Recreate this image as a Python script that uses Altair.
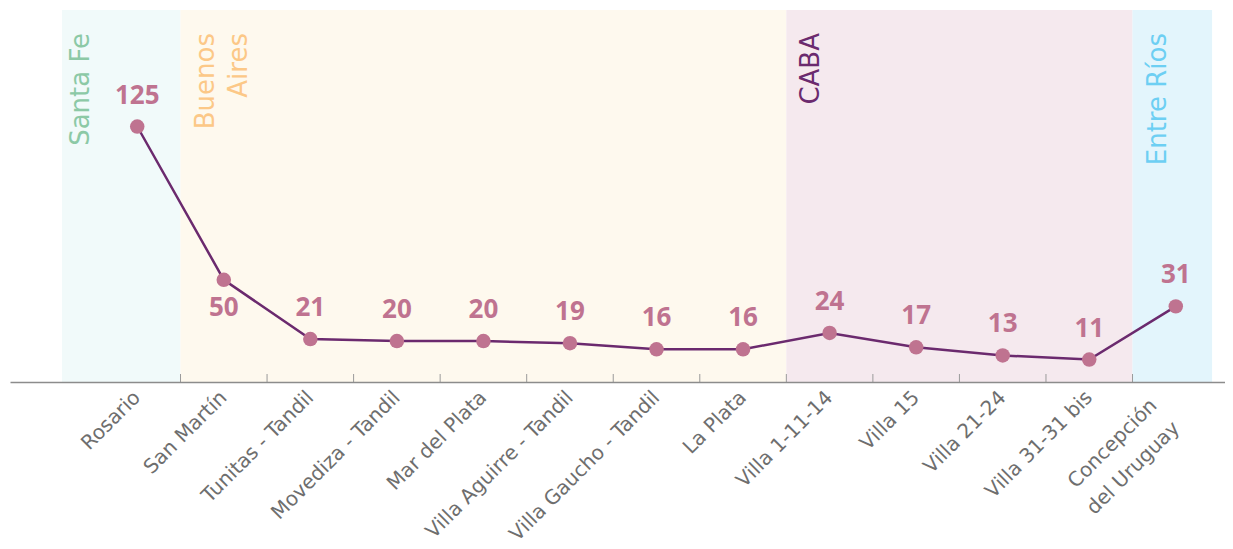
import altair as alt
import pandas as pd

categories = ["Rosario", "San Martín", "Tunitas - Tandil", "Movediza - Tandil", "Mar del Plata",
              "Villa Aguirre - Tandil", "Villa Gaucho - Tandil", "La Plata", "Villa 1-11-14",
              "Villa 15", "Villa 21-24", "Villa 31-31 bis", "Concepción del Uruguay"]
# point heights as drawn in the picture
values = [125, 50, 21, 20, 20, 19, 16, 16, 24, 17, 13, 11, 37]
# numbers printed next to the points
value_labels = ["125", "50", "21", "20", "20", "19", "16", "16", "24", "17", "13", "11", "31"]
label_side = ["above", "below", "above", "above", "above", "above", "above", "above",
              "above", "above", "above", "above", "above"]

regions = ["Santa Fe", "Buenos|Aires", "CABA", "Entre Ríos"]
region_first = ["Rosario", "San Martín", "Villa 1-11-14", "Concepción del Uruguay"]
region_last = ["Rosario", "La Plata", "Villa 31-31 bis", "Concepción del Uruguay"]
region_fill = ["#f1fafa", "#fef9ee", "#f5e9ee", "#e3f5fc"]
region_text = ["#8cc9a6", "#fcc887", "#6b2a6e", "#6dcff3"]

YMAX = 182
W, H = 1215, 372
FONT = "DejaVu Sans"
NUMFONT = "Open Sans"

df = pd.DataFrame({"cat": categories, "value": values, "lab": value_labels, "side": label_side})
rdf = pd.DataFrame({"region": regions, "first": region_first, "last": region_last,
                    "fill": region_fill, "tcolor": region_text})
rdf["top"] = YMAX
rdf["bottom"] = 0
tdf = pd.DataFrame({"cat": categories[1:]})
tdf["zero"] = 0

xscale = alt.Scale(type="band", domain=categories, paddingInner=0, paddingOuter=0.5194, align=0.934)
yscale = alt.Scale(domain=[0, YMAX])

is_two_line = "datum.value == 'Concepción del Uruguay'"
x_axis = alt.Axis(title=None, ticks=False, labelAngle=-45, labelFont=FONT, labelFontSize=20,
                  labelLimit=400, labelBaseline="middle",
                  labelColor="#6e6e6e",
                  labelPadding={"condition": {"test": is_two_line, "value": 20}, "value": 12},
                  labelOffset={"condition": {"test": is_two_line, "value": -22}, "value": 0},
                  domainColor="#8c8c8c", domainWidth=1.5,
                  labelLineHeight=32,
                  labelExpr=is_two_line + " ? ['Concepción', 'del Uruguay'] : datum.label")

base_r = alt.Chart(rdf)
xr = alt.X("first:N", bandPosition=0, scale=xscale, axis=x_axis)
x2r = alt.X2("last:N", bandPosition=1)
yr = alt.Y("bottom:Q", scale=yscale, axis=None)
y2r = alt.Y2("top:Q")
fill = alt.Color("fill:N", scale=None)

rect_sf = base_r.transform_filter(alt.datum.region == "Santa Fe").mark_rect(xOffset=-32).encode(
    x=xr, x2=x2r, y=yr, y2=y2r, color=fill)
rect_mid = base_r.transform_filter((alt.datum.region == "Buenos|Aires") | (alt.datum.region == "CABA")).mark_rect().encode(
    x=xr, x2=x2r, y=yr, y2=y2r, color=fill)
rect_er = base_r.transform_filter(alt.datum.region == "Entre Ríos").mark_rect(x2Offset=-7).encode(
    x=xr, x2=x2r, y=yr, y2=y2r, color=fill)

xl = alt.X("first:N", bandPosition=0, scale=xscale)
yl = alt.Y("top:Q", scale=yscale)
tcol = alt.Color("tcolor:N", scale=None)
rl_sf = base_r.transform_filter(alt.datum.region == "Santa Fe").mark_text(
    angle=270, align="right", baseline="top", font=FONT, fontSize=26,
    dx=-23, dy=-26, lineBreak="|", lineHeight=33
).encode(x=xl, y=yl, text="region:N", color=tcol)
rl_other = base_r.transform_filter(alt.datum.region != "Santa Fe").mark_text(
    angle=270, align="right", baseline="top", font=FONT, fontSize=26,
    dx=-23, dy=12, lineBreak="|", lineHeight=33
).encode(x=xl, y=yl, text="region:N", color=tcol)

ticks = alt.Chart(tdf).mark_rule(color="#9a9a9a", strokeWidth=1, y2Offset=-8).encode(
    x=alt.X("cat:N", bandPosition=0, scale=xscale),
    y=alt.Y("zero:Q", scale=yscale),
    y2=alt.Y2("zero:Q"),
)

base = alt.Chart(df).encode(
    x=alt.X("cat:N", scale=xscale),
    y=alt.Y("value:Q", scale=yscale),
)
line = base.mark_line(color="#6b2a6e", strokeWidth=2.5)
points = base.mark_circle(size=210, color="#bf7390", opacity=1)
lab_above = base.transform_filter(alt.datum.side == "above").mark_text(
    dy=-31, font=NUMFONT, fontSize=26, fontWeight="bold", color="#bf7390", baseline="middle"
).encode(text="lab:N")
lab_below = base.transform_filter(alt.datum.side == "below").mark_text(
    dy=28, font=NUMFONT, fontSize=26, fontWeight="bold", color="#bf7390", baseline="middle"
).encode(text="lab:N")

chart = alt.layer(
    rect_sf, rect_mid, rect_er, rl_sf, rl_other, ticks, line, points, lab_above, lab_below
).properties(
    width=W, height=H, padding={"left": 2, "top": 2, "right": 0, "bottom": 0}
).configure_view(stroke=None).configure_axis(grid=False)

chart.save("out.html", embed_options={"renderer": "svg", "actions": False})
